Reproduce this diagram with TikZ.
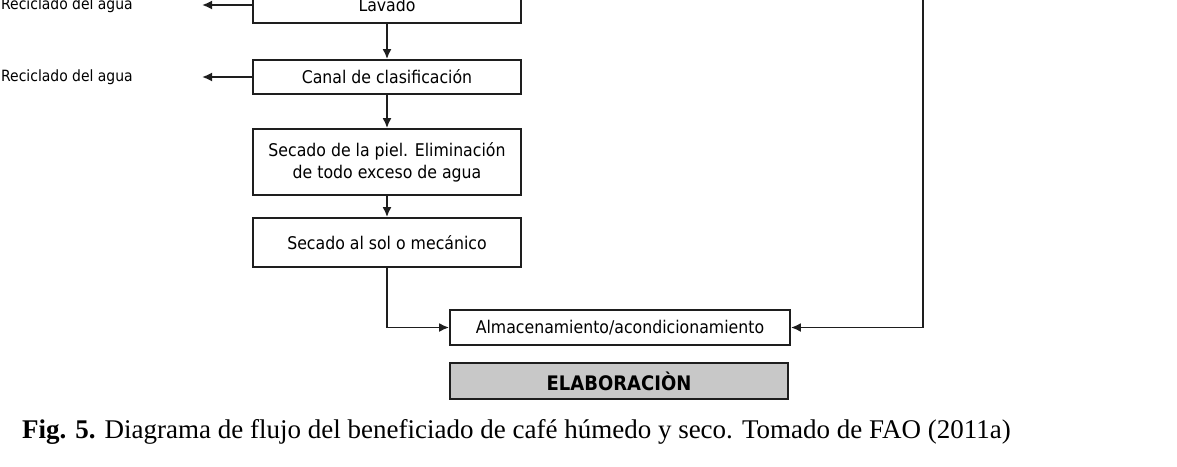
\documentclass[tikz,border=0pt]{standalone}
\usepackage{fontspec}
\setmainfont{Liberation Serif}
\newfontfamily\boxfont{DejaVu Sans Condensed}
\usetikzlibrary{arrows.meta, positioning}
\definecolor{boxline}{HTML}{1E1E1E}
\definecolor{elabfill}{HTML}{C8C8C8}

\begin{document}
\begin{tikzpicture}[
      x=1pt, y=-1pt,
      every node/.style={text=black},
      procbox/.style={draw=boxline, line width=1.8pt, minimum width=268pt, align=center,
                      font=\boxfont\fontsize{17.5}{22}\selectfont, inner sep=2pt},
      wide/.style={procbox, minimum width=340pt},
      lbl/.style={font=\boxfont\fontsize{15.5}{18}\selectfont, anchor=west, inner sep=0pt},
      arr/.style={-{Latex[length=10pt, width=9pt]}, line width=1.8pt, draw=boxline}
    ]
    \useasboundingbox (0,0) rectangle (1177,466);
    \clip (0,0) rectangle (1177,466);
    % process chain
    \node[procbox, minimum height=36pt] (lavado) at (387,5) {Lavado};
    \node[procbox, minimum height=34pt] (canal)  at (387,77) {Canal de clasificaci\'on};
    \node[procbox, minimum height=66pt] (piel)   at (387,162) {Secado de la piel. Eliminaci\'on\\de todo exceso de agua};
    \node[procbox, minimum height=49pt] (sol)    at (387,242.5) {Secado al sol o mec\'anico};
    \node[wide, minimum height=35pt] (almacen) at (620,327.5) {Almacenamiento/acondicionamiento};
    \node[wide, minimum height=36pt, minimum width=338pt, fill=elabfill,
          font=\boxfont\bfseries\fontsize{20}{24}\selectfont] (elab) at (619,381) {ELABORACI\`ON};
    % water recycling
    \node[lbl] (rec1) at (1,5) {Reciclado del agua};
    \node[lbl] (rec2) at (1,77) {Reciclado del agua};
    \coordinate (rec1end) at (202,5);
    \coordinate (rec2end) at (202,77);
    \coordinate (secoin) at (923,-10);
    \draw[arr] (lavado.west) -- (rec1end);
    \draw[arr] (canal.west) -- (rec2end);
    \draw[arr] (lavado) -- (canal);
    \draw[arr] (canal) -- (piel);
    \draw[arr] (piel) -- (sol);
    \draw[arr] (sol.south) |- (almacen.west);
    \draw[arr] (secoin) |- (almacen.east);
    % caption
    \node[anchor=base west, inner sep=0pt, font=\fontsize{27}{30}\selectfont] (caption) at (22,438)
      {\textbf{Fig. 5.} Diagrama de flujo del beneficiado de caf\'e h\'umedo y seco. Tomado de FAO (2011a)};
  \end{tikzpicture}
\end{document}
